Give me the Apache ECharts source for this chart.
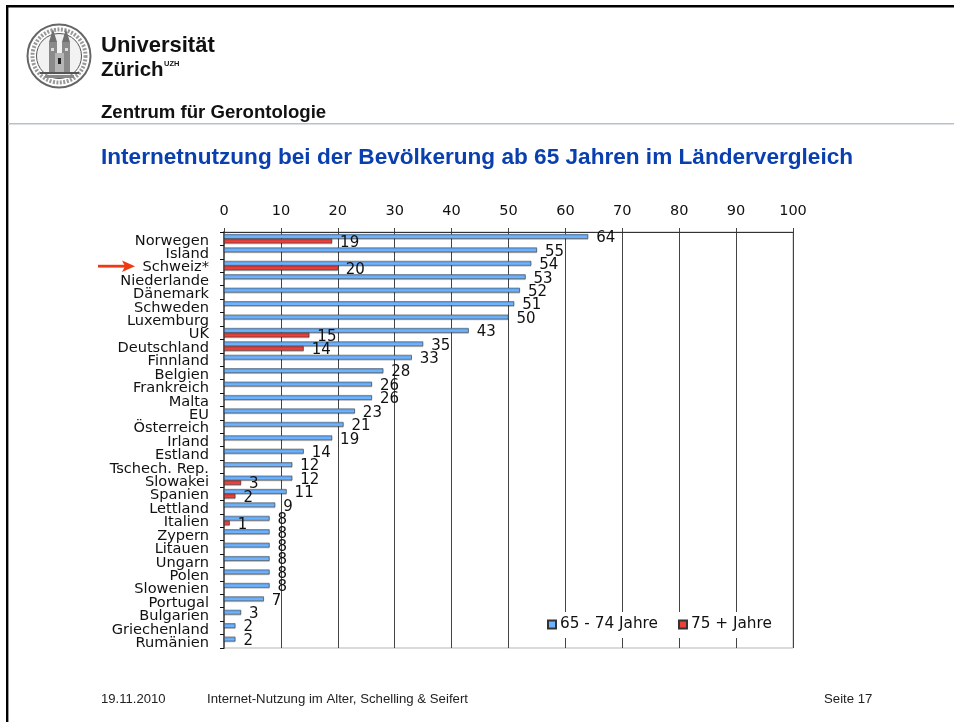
<!DOCTYPE html>
<html><head><meta charset="utf-8">
<style>html,body{margin:0;padding:0;background:#fff}#c{width:954px;height:722px}</style>
<script src="https://cdn.jsdelivr.net/npm/echarts@6/dist/echarts.min.js"></script>
</head><body><div id="c"></div>
<script>
const categories = ['Norwegen','Island','Schweiz*','Niederlande','Dänemark','Schweden','Luxemburg','UK','Deutschland','Finnland','Belgien','Frankreich','Malta','EU','Österreich','Irland','Estland','Tschech. Rep.','Slowakei','Spanien','Lettland','Italien','Zypern','Litauen','Ungarn','Polen','Slowenien','Portugal','Bulgarien','Griechenland','Rumänien'];
const age65to74 = [64,55,54,53,52,51,50,43,35,33,28,26,26,23,21,19,14,12,12,11,9,8,8,8,8,8,8,7,3,2,2];
const age75plus = [19,null,20,null,null,null,null,15,14,null,null,null,null,null,null,null,null,null,3,2,null,1,null,null,null,null,null,null,null,null,null];
const seriesNames = ['65 - 74 Jahre','75 + Jahre'];
const title = 'Internetnutzung bei der Bevölkerung ab 65 Jahren im Ländervergleich';

const chart = echarts.init(document.getElementById('c'), null, {renderer:'canvas'});
const axisFont = 'DejaVu Sans';
const sans = 'Liberation Sans';
function txt(x,y,text,size,weight,color){
  return {type:'text',x,y,silent:true,style:{text,fontFamily:sans,fontSize:size,fontWeight:weight||'normal',fill:color||'#111',textVerticalAlign:'middle',textBaseline:'middle'}};
}
function rect(x,y,w,h,fill){return {type:'rect',silent:true,shape:{x,y,width:w,height:h},style:{fill}};}
function poly(points,fill){return {type:'polygon',silent:true,shape:{points},style:{fill}};}
const seal = [
  {type:'circle',silent:true,shape:{cx:59,cy:56,r:31.5},style:{fill:'#fff',stroke:'#666',lineWidth:2}},
  {type:'circle',silent:true,shape:{cx:59,cy:56,r:26.5},style:{fill:'none',stroke:'#999',lineWidth:4,lineDash:[2,1.5]}},
  {type:'circle',silent:true,shape:{cx:59,cy:56,r:22.5},style:{fill:'#f2f2f2',stroke:'#555',lineWidth:1}},
  rect(49,42,8,30,'#8a8a8a'),rect(62,42,8,30,'#8a8a8a'),rect(55,53,9,19,'#b5b5b5'),
  poly([[49,42],[53,29],[57,42]],'#6f6f6f'),poly([[62,42],[66,29],[70,42]],'#6f6f6f'),
  rect(58,58,3,6,'#222'),rect(51,48,3,3,'#ddd'),rect(65,48,3,3,'#ddd'),
  rect(40,72,39,2,'#555'),rect(45,75,29,3,'#888')
];
const arrow = [
  rect(98,264.8,27,2.8,'#ee3a14'),
  poly([[122,260.5],[135,266.2],[122,272],[125,266.2]],'#ee3a14')
];
const page = [
  rect(6,5,948,2.4,'#000'),rect(6,5,2.4,717,'#000'),rect(8,123,946,1.5,'#b9c0c8'),
  ...seal,
  txt(101,45.5,'Universität',22,'bold','#111'),
  txt(101,70.5,'Zürich',20.5,'bold','#111'),
  txt(164,64,'UZH',7.5,'bold','#111'),
  txt(101,112.5,'Zentrum für Gerontologie',18.6,'bold','#111'),
  txt(101,158,title,22.6,'bold','#0a3fb0'),
  txt(101,699.5,'19.11.2010',13.1,'normal','#222'),
  txt(207,699.5,'Internet-Nutzung im Alter, Schelling & Seifert',13.2,'normal','#222'),
  txt(824,699.5,'Seite 17',13.2,'normal','#222'),
  ...arrow
];
const label = {show:true,position:'right',distance:8,offset:[0,2],color:'#111',fontFamily:axisFont,fontSize:15};
const barEdge = {borderColor:'#333',borderWidth:0.5,shadowColor:'rgba(0,0,0,0.25)',shadowOffsetY:1,shadowBlur:0};
chart.setOption({
  animation:false,
  backgroundColor:'#fff',
  grid:{left:224,right:161,top:232,bottom:74,show:true,borderColor:'#b5b5b5',borderWidth:1,backgroundColor:'transparent'},
  legend:{
    data:seriesNames,left:537,top:612,padding:[5,10,6,10],itemWidth:8,itemHeight:8,itemGap:20,
    backgroundColor:'#fff',icon:'rect',
    textStyle:{fontFamily:axisFont,fontSize:15.3,color:'#111',padding:[0,0,0,-1]},
    selectedMode:false
  },
  xAxis:{type:'value',position:'top',min:0,max:100,interval:10,
    axisLine:{show:true,lineStyle:{color:'#333',width:1}},
    axisTick:{show:true,length:4,lineStyle:{color:'#444'}},
    axisLabel:{margin:13,fontFamily:axisFont,fontSize:14.5,color:'#111',showMinLabel:true,showMaxLabel:true},
    splitLine:{show:true,lineStyle:{color:'#444',width:1}}},
  yAxis:{type:'category',inverse:true,data:categories,
    axisLine:{show:true,onZero:false,lineStyle:{color:'#666',width:2}},
    axisTick:{show:true,length:4,alignWithLabel:false,lineStyle:{color:'#111'}},
    axisLabel:{interval:0,margin:15,fontFamily:axisFont,fontSize:14.6,color:'#111',verticalAlign:'top',lineHeight:4}},
  series:[
    {name:seriesNames[0],type:'bar',data:age65to74,barWidth:4.6,barGap:0,
     itemStyle:{color:'#6db3ff',...barEdge},label},
    {name:seriesNames[1],type:'bar',data:age75plus,barWidth:4.6,
     itemStyle:{color:'#ee3f3a',...barEdge},label}
  ],
  graphic:page
});
</script></body></html>
